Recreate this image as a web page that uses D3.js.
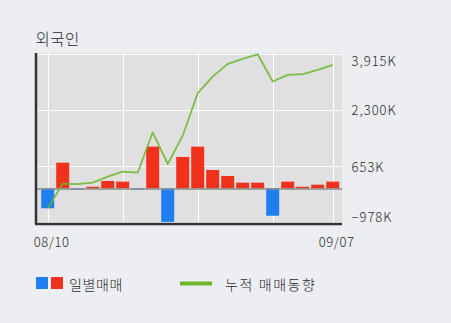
<!DOCTYPE html>
<html>
<head>
<meta charset="utf-8">
<script src="https://cdn.jsdelivr.net/npm/d3@7"></script>
<style>
  html, body { margin: 0; padding: 0; background: #eceef2; }
  svg { display: block; }
  text { font-family: "Noto Sans CJK KR", "Noto Sans", sans-serif; font-weight: 300; fill: #2a2a2a; }
</style>
</head>
<body>
<svg id="chart"></svg>
<script>
// ---- data ----
const dates = ["08/10", "08/11", "08/12", "08/13", "08/14", "08/18", "08/19", "08/20", "08/21", "08/24",
               "08/25", "08/26", "08/27", "08/28", "08/31", "09/01", "09/02", "09/03", "09/04", "09/07"];
// daily net buying (K shares)
const daily = [-578, 753, -35, 50, 219, 200, -35, 1220, -975, 920,
               1220, 540, 365, 170, 170, -795, 200, 50, 110, 200];
// cumulative trend (K shares)
const cumulative = [-578, 140, 130, 170, 345, 490, 460, 1640, 715, 1540,
                    2780, 3265, 3635, 3780, 3915, 3120, 3315, 3335, 3460, 3605];
const yTicks = [3915, 2300, 653, -978];
const xLabels = ["08/10", "09/07"];
const gridDates = ["08/10", "08/18", "08/25", "09/01", "09/07"];

// ---- layout ----
const width = 451, height = 323;
const plot = { left: 36, right: 342, top: 53, bottom: 224 };

const svg = d3.select("#chart").attr("width", width).attr("height", height);

const x = d3.scaleBand()
  .domain(dates)
  .range([40.2, 340.2])
  .paddingInner(2 / 15)
  .paddingOuter(1 / 15);

const y = d3.scaleLinear()
  .domain([-978, 3915])
  .range([222, 54.3]);

const cx = d => x(d) + x.bandwidth() / 2;

// plot background
svg.append("rect")
  .attr("x", plot.left).attr("y", plot.top)
  .attr("width", plot.right - plot.left).attr("height", plot.bottom - plot.top)
  .attr("fill", "#e0e0e0");

// grid
svg.append("g").selectAll("line")
  .data(yTicks)
  .join("line")
  .attr("x1", plot.left).attr("x2", plot.right)
  .attr("y1", d => Math.round(y(d)) + 0.5).attr("y2", d => Math.round(y(d)) + 0.5)
  .attr("stroke", "#fff").attr("stroke-width", 1);

svg.append("g").selectAll("line")
  .data(gridDates)
  .join("line")
  .attr("x1", d => Math.round(cx(d)) + 0.5).attr("x2", d => Math.round(cx(d)) + 0.5)
  .attr("y1", plot.top).attr("y2", plot.bottom)
  .attr("stroke", "#fff").attr("stroke-width", 1);

// bars
svg.append("g").selectAll("rect")
  .data(daily)
  .join("rect")
  .attr("x", (d, i) => x(dates[i]))
  .attr("width", x.bandwidth())
  .attr("y", d => d >= 0 ? y(d) : y(0))
  .attr("height", d => Math.max(1, Math.abs(y(d) - y(0))))
  .attr("fill", d => d >= 0 ? "#f0321c" : "#1f7ff0");

// zero line
svg.append("line")
  .attr("x1", plot.left).attr("x2", plot.right)
  .attr("y1", y(0) + 0.5).attr("y2", y(0) + 0.5)
  .attr("stroke", "#8c8c8c").attr("stroke-width", 1.5);

// cumulative line
const line = d3.line()
  .x((d, i) => cx(dates[i]))
  .y(d => y(d));

svg.append("path")
  .datum(cumulative)
  .attr("d", line)
  .attr("fill", "none")
  .attr("stroke", "#6cb52d")
  .attr("stroke-width", 1.8)
  .attr("stroke-opacity", 0.85)
  .attr("stroke-linejoin", "round");

// axes (left + bottom)
svg.append("line")
  .attr("x1", plot.left).attr("x2", plot.left)
  .attr("y1", plot.top).attr("y2", plot.bottom)
  .attr("stroke", "#333").attr("stroke-width", 2.5);
svg.append("line")
  .attr("x1", plot.left - 1).attr("x2", plot.right)
  .attr("y1", plot.bottom).attr("y2", plot.bottom)
  .attr("stroke", "#333").attr("stroke-width", 2.5);

// y tick labels on the right
svg.append("g").selectAll("text")
  .data(yTicks)
  .join("text")
  .attr("x", 351.5)
  .attr("y", d => Math.min(216, Math.max(60, y(d))))
  .attr("dominant-baseline", "central")
  .attr("font-size", 13)
  .attr("letter-spacing", 1)
  .text(d => d3.format(",")(d) + "K");

// x labels
svg.append("g").selectAll("text")
  .data(xLabels)
  .join("text")
  .attr("x", d => cx(d) + 4)
  .attr("y", 241)
  .attr("dominant-baseline", "central")
  .attr("text-anchor", "middle")
  .attr("font-size", 13)
  .attr("letter-spacing", 0.6)
  .text(d => d);

// title
svg.append("text")
  .attr("x", 35.5).attr("y", 38)
  .attr("dominant-baseline", "central")
  .attr("font-size", 15.5)
  .attr("letter-spacing", 0.5)
  .text("외국인");

// legend
const legend = svg.append("g");
legend.append("rect").attr("x", 36).attr("y", 277).attr("width", 12).attr("height", 12).attr("fill", "#1f7ff0");
legend.append("rect").attr("x", 51).attr("y", 277).attr("width", 12).attr("height", 12).attr("fill", "#f0321c");
legend.append("text").attr("x", 69).attr("y", 283.5).attr("dominant-baseline", "central")
  .attr("font-size", 14).attr("letter-spacing", 0.6).text("일별매매");
legend.append("line").attr("x1", 180).attr("x2", 212).attr("y1", 283.5).attr("y2", 283.5)
  .attr("stroke", "#6cb52d").attr("stroke-width", 4);
legend.append("text").attr("x", 225).attr("y", 283.5).attr("dominant-baseline", "central")
  .attr("font-size", 14).attr("letter-spacing", 1.6).text("누적 매매동향");
</script>
</body>
</html>
